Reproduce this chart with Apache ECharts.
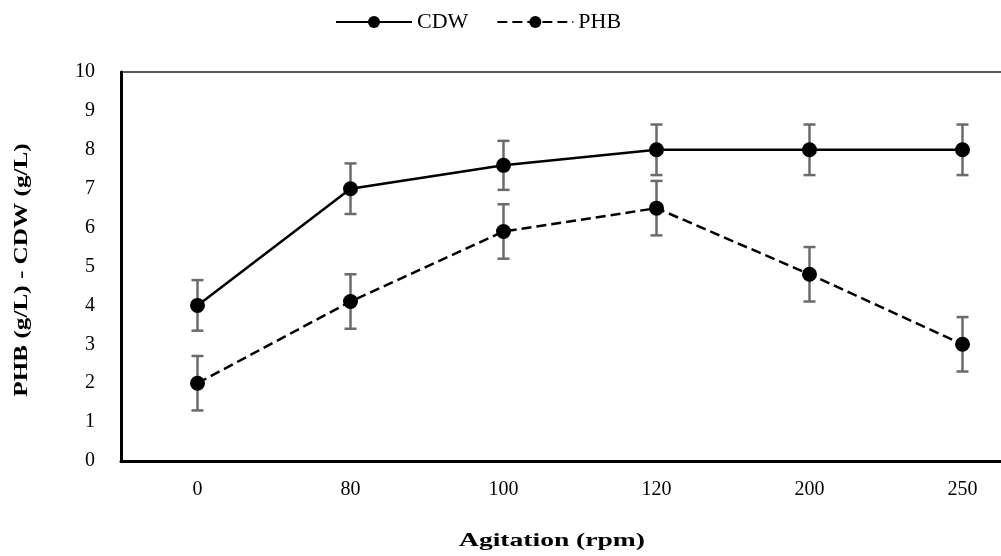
<!DOCTYPE html>
<html><head><meta charset="utf-8">
<script src="https://cdn.jsdelivr.net/npm/echarts@6/dist/echarts.min.js"></script>
<style>html,body{margin:0;padding:0;background:#fff}#c{width:1001px;height:556px}</style>
</head><body><div id="c"></div>
<script>
const categories = ['0', '80', '100', '120', '200', '250'];
const cdw = [4, 7, 7.6, 8, 8, 8];
const cdwErr = [0.65, 0.65, 0.63, 0.65, 0.65, 0.65];
const phb = [2, 4.1, 5.9, 6.5, 4.8, 3];
const phbErr = [0.7, 0.7, 0.7, 0.7, 0.7, 0.7];
const yTicks = [0, 1, 2, 3, 4, 5, 6, 7, 8, 9, 10];

const FONT = '"Liberation Serif", "DejaVu Serif", serif';

function errData(vals, errs) {
  return vals.map((v, i) => [i, v - errs[i], v + errs[i]]);
}
function renderErr(params, api) {
  const x = api.value(0);
  const lo = api.coord([x, api.value(1)]);
  const hi = api.coord([x, api.value(2)]);
  const hw = 6;
  const style = { stroke: '#6b6b6b', lineWidth: 2.5, fill: null };
  return {
    type: 'group',
    children: [
      { type: 'line', shape: { x1: hi[0], y1: hi[1], x2: lo[0], y2: lo[1] }, style },
      { type: 'line', shape: { x1: hi[0] - hw, y1: hi[1], x2: hi[0] + hw, y2: hi[1] }, style },
      { type: 'line', shape: { x1: lo[0] - hw, y1: lo[1], x2: lo[0] + hw, y2: lo[1] }, style }
    ]
  };
}

const chart = echarts.init(document.getElementById('c'));
chart.setOption({
  animation: false,
  backgroundColor: '#fff',
  legend: {
    top: 6, left: 330,
    itemWidth: 76, itemHeight: 15, itemGap: 28,
    textStyle: { fontFamily: FONT, fontSize: 22, color: '#000' },
    data: ['CDW', 'PHB']
  },
  grid: {
    left: 121, width: 918, top: 72, bottom: 95,
    outerBoundsMode: 'none', containLabel: false,
    show: true, borderColor: '#222', borderWidth: 1.5, backgroundColor: 'transparent'
  },
  xAxis: {
    type: 'category', data: categories, boundaryGap: true,
    axisLine: { lineStyle: { color: '#000', width: 3 } },
    axisTick: { show: false },
    axisLabel: { fontFamily: FONT, fontSize: 20, color: '#000', margin: 19 }
  },
  yAxis: {
    type: 'value', min: yTicks[0], max: yTicks[yTicks.length - 1], interval: 1,
    axisLine: { show: true, lineStyle: { color: '#000', width: 3 } },
    axisTick: { show: false },
    splitLine: { show: false },
    axisLabel: { fontFamily: FONT, fontSize: 20, color: '#000', margin: 26 }
  },
  graphic: [
    {
      type: 'text', x: 552, y: 541, scaleX: 1.45,
      style: { text: 'Agitation (rpm)', font: 'bold 19px ' + FONT, fill: '#000', align: 'center', verticalAlign: 'middle' }
    },
    {
      type: 'text', x: 22, y: 270, rotation: Math.PI / 2, scaleX: 1.4,
      style: { text: 'PHB (g/L) - CDW (g/L)', font: 'bold 18px ' + FONT, fill: '#000', align: 'center', verticalAlign: 'middle' }
    }
  ],
  series: [
    { name: 'CDW', type: 'line', data: cdw, symbol: 'circle', symbolSize: 15,
      itemStyle: { color: '#000' }, lineStyle: { color: '#000', width: 2.5, type: 'solid' }, z: 3 },
    { name: 'PHB', type: 'line', data: phb, symbol: 'circle', symbolSize: 15,
      itemStyle: { color: '#000' }, lineStyle: { color: '#000', width: 2.5, type: [10, 5] }, z: 3 },
    { type: 'custom', data: errData(cdw, cdwErr), renderItem: renderErr, z: 2, silent: true },
    { type: 'custom', data: errData(phb, phbErr), renderItem: renderErr, z: 2, silent: true }
  ]
});
</script></body></html>
